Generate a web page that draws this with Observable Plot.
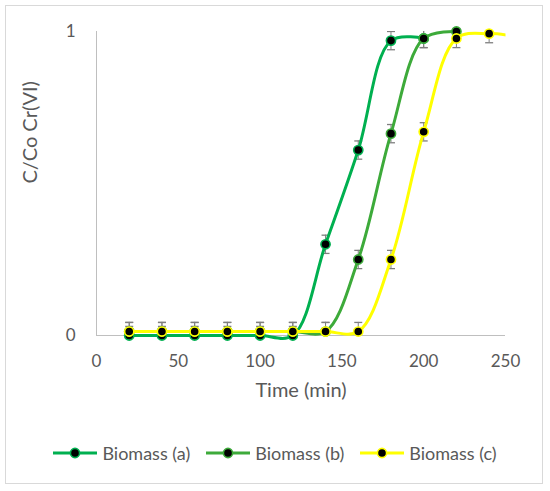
<!DOCTYPE html>
<html>
<head>
<meta charset="utf-8">
<script src="https://cdn.jsdelivr.net/npm/d3@7"></script>
<script src="https://cdn.jsdelivr.net/npm/@observablehq/plot@0.6"></script>
<style>
  html, body { margin: 0; padding: 0; background: #fff; }
  #wrap { position: relative; width: 550px; height: 491px; font-family: Lato, "Open Sans", sans-serif; }
  #border { position: absolute; left: 5px; top: 5px; width: 538px; height: 479px; border: 1px solid #d9d9d9; box-sizing: border-box; }
  #chart { position: absolute; left: 0; top: 0; }
  #legend { position: absolute; left: 0; top: 441px; width: 550px; display: flex; justify-content: center; gap: 16px; font-size: 18px; color: #595959; }
  .item { display: flex; align-items: center; gap: 5px; height: 24px; }
</style>
</head>
<body>
<div id="wrap">
  <div id="border"></div>
  <div id="chart"></div>
  <div id="legend"></div>
</div>
<script>
// Data
const times = [20, 40, 60, 80, 100, 120, 140, 160, 180, 200, 220, 240, 260];
const seriesNames = ["Biomass (a)", "Biomass (b)", "Biomass (c)"];
const seriesColors = ["#00B050", "#3DAA3A", "#FFFF00"];
const biomassA = [0, 0, 0, 0, 0, 0, 0.30, 0.61, 0.97, 0.977];
const biomassB = [0.013, 0.013, 0.013, 0.013, 0.013, 0.013, 0.013, 0.25, 0.664, 0.977, 1.0];
const biomassC = [0.013, 0.013, 0.013, 0.013, 0.013, 0.013, 0.013, 0.013, 0.25, 0.67, 0.977, 0.993, 0.98];
const errA = [0.03, 0.03, 0.03, 0.03, 0.03, 0.03, 0.03, 0.03, 0.03, 0.03];
const errB = [0.03, 0.03, 0.03, 0.03, 0.03, 0.03, 0.03, 0.03, 0.03, 0.03, 0.03];
const errC = [0.03, 0.03, 0.03, 0.03, 0.03, 0.03, 0.03, 0.03, 0.03, 0.03, 0.03, 0.03, 0.03];
const xTicks = [0, 50, 100, 150, 200, 250];
const yTicks = [0, 1];

const values = [biomassA, biomassB, biomassC];
const errs = [errA, errB, errC];
const rows = values.map((vals, s) => vals.map((v, i) => ({
  series: seriesNames[s], t: times[i], v, e: errs[s][i]
})));
const all = rows.flat();
const visible = all.filter(d => d.t <= 250);

const capSymbol = { draw(ctx) { ctx.moveTo(-4, 0); ctx.lineTo(4, 0); } };

const marks = [
  Plot.ruleY([0], { stroke: "#bfbfbf", strokeWidth: 1 }),
  Plot.ruleX([0], { stroke: "#bfbfbf", strokeWidth: 1 }),
  Plot.axisX({ ticks: xTicks, tickSize: 0, tickPadding: 19, label: null, fill: "#595959", tickFormat: d => String(d) }),
  Plot.axisY({ ticks: yTicks, tickSize: 0, tickPadding: 21, label: null, fill: "#595959", tickFormat: d => String(d) }),
  Plot.ruleX(visible, { x: "t", y1: d => d.v - d.e, y2: d => d.v + d.e, stroke: "#7f7f7f", strokeWidth: 1, clip: true }),
  Plot.dot(visible, { x: "t", y: d => d.v + d.e, symbol: capSymbol, stroke: "#7f7f7f", fill: "none", strokeWidth: 1.3, clip: true }),
  Plot.dot(visible, { x: "t", y: d => d.v - d.e, symbol: capSymbol, stroke: "#7f7f7f", fill: "none", strokeWidth: 1.3, clip: true })
];
rows.forEach((r, s) => {
  marks.push(Plot.line(r, { x: "t", y: "v", stroke: seriesColors[s], strokeWidth: 3, curve: "catmull-rom" }));
  marks.push(Plot.dot(r.filter(d => d.t <= 250), { x: "t", y: "v", r: 4.6, fill: "#000", stroke: seriesColors[s], strokeWidth: 1.6 }));
});
marks.push(Plot.text(["C/Co Cr(VI)"], { frameAnchor: "left", dx: -66, rotate: -90, fill: "#595959", fontSize: 20, lineAnchor: "middle" }));
marks.push(Plot.text(["Time (min)"], { frameAnchor: "bottom", dy: 55, fill: "#595959", fontSize: 20, lineAnchor: "middle" }));

const chart = Plot.plot({
  width: 550, height: 420,
  marginLeft: 96, marginRight: 45, marginTop: 31, marginBottom: 85,
  x: { domain: [0, 250] },
  y: { domain: [0, 1] },
  style: { fontFamily: "Lato, 'Open Sans', sans-serif", fontSize: "17px", color: "#595959", background: "transparent" },
  marks
});

// clip the smoothed lines to the horizontal extent of the plot area only
const ns = "http://www.w3.org/2000/svg";
const defs = document.createElementNS(ns, "defs");
const cp = document.createElementNS(ns, "clipPath");
cp.setAttribute("id", "hclip");
const rect = document.createElementNS(ns, "rect");
rect.setAttribute("x", 96); rect.setAttribute("y", 0);
rect.setAttribute("width", 409); rect.setAttribute("height", 420);
cp.appendChild(rect); defs.appendChild(cp); chart.insertBefore(defs, chart.firstChild);
chart.querySelectorAll('g[aria-label="line"]').forEach(g => g.setAttribute("clip-path", "url(#hclip)"));

document.getElementById("chart").appendChild(chart);

// legend
const legend = document.getElementById("legend");
seriesNames.forEach((name, s) => {
  const item = document.createElement("div");
  item.className = "item";
  item.innerHTML = `<svg width="44" height="14"><line x1="0" y1="7" x2="44" y2="7" stroke="${seriesColors[s]}" stroke-width="3"/><circle cx="22" cy="7" r="4.6" fill="#000" stroke="${seriesColors[s]}" stroke-width="1.6"/></svg><span>${name}</span>`;
  legend.appendChild(item);
});
</script>
</body>
</html>
